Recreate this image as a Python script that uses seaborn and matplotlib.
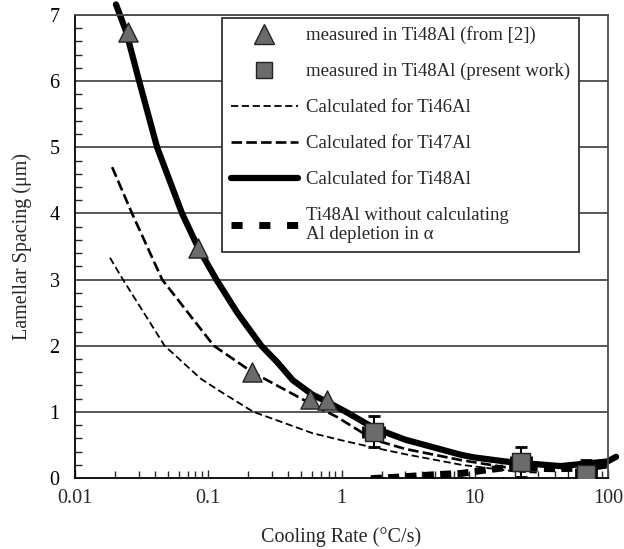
import matplotlib
matplotlib.use("Agg")
import matplotlib.pyplot as plt
import numpy as np
import pandas as pd
import seaborn as sns
from matplotlib.lines import Line2D
from matplotlib.ticker import MultipleLocator, LogLocator, NullFormatter, FuncFormatter

# measured points
tri_x = [0.025, 0.0841, 0.214, 0.585, 0.78]
tri_y = [6.75, 3.48, 1.60, 1.20, 1.18]

sq_x = [1.74, 22.2, 68.0]
sq_y = [0.70, 0.24, 0.06]
sq_err = [0.23, 0.23, 0.21]

# calculated curves
ti46_x = [0.0183, 0.0229, 0.047, 0.088, 0.123, 0.218, 0.30, 0.6, 1.0, 1.74, 3.0, 7.9, 20, 30]
ti46_y = [3.33, 3.00, 2.00, 1.50, 1.31, 1.00, 0.90, 0.68, 0.57, 0.46, 0.36, 0.20, 0.10, 0.08]

ti47_x = [0.019, 0.0268, 0.0451, 0.0616, 0.11, 0.214, 0.58, 0.93, 1.74, 3.0, 7.9, 20, 30]
ti47_y = [4.70, 4.00, 3.00, 2.65, 2.00, 1.60, 1.13, 0.92, 0.58, 0.44, 0.27, 0.14, 0.12]

ti48_x = [0.0203, 0.0242, 0.0303, 0.0413, 0.0636, 0.0841, 0.115, 0.165, 0.25, 0.33, 0.43,
          0.605, 0.80, 1.08, 1.74, 3.0, 7.9, 10, 18.5, 44, 99, 115]
ti48_y = [7.16, 6.75, 6.00, 5.00, 4.00, 3.48, 3.00, 2.50, 2.00, 1.75, 1.48,
          1.26, 1.14, 1.00, 0.76, 0.58, 0.35, 0.31, 0.24, 0.18, 0.25, 0.32]

nodep_x = [1.66, 3.0, 5.0, 8.0, 12, 16, 25, 40, 70, 100]
nodep_y = [-0.01, 0.02, 0.05, 0.07, 0.12, 0.15, 0.15, 0.14, 0.15, 0.20]

sns.set_style("white")
plt.rcParams["font.family"] = ["Liberation Serif", "DejaVu Serif"]

fig = plt.figure(figsize=(6.24, 5.49), dpi=100)
ax = fig.add_axes([75 / 624, 1 - 478 / 549, 533 / 624, 463 / 549])

ax.set_xscale("log")
ax.set_xlim(0.01, 100)
ax.set_ylim(0, 7)

# horizontal grid
for yv in range(1, 8):
    ax.axhline(yv, color="#4a4a4a", lw=1.3, zorder=1)

kw = dict(ax=ax, sort=False, estimator=None, color="black", legend=False)
sns.lineplot(x=ti46_x, y=ti46_y, lw=1.3, linestyle=(0, (4, 2)), **kw)
sns.lineplot(x=ti47_x, y=ti47_y, lw=1.9, linestyle=(0, (4, 1.6)), **kw)
sns.lineplot(x=ti48_x, y=ti48_y, lw=4.5, **kw)
ax.lines[-1].set_clip_on(False)
ax.lines[-1].set_solid_joinstyle("round")
sns.lineplot(x=nodep_x, y=nodep_y, lw=5, linestyle=(0, (1.6, 0.9)), **kw)

sns.scatterplot(x=tri_x, y=tri_y, ax=ax, marker="^", s=190, color="#6b6b6b",
                edgecolor="#222222", linewidth=1.0, zorder=5, legend=False)

xerr_lo = [v - v / 1.19 for v in sq_x]
xerr_hi = [v * 1.19 - v for v in sq_x]
ax.errorbar(sq_x, sq_y, yerr=sq_err, xerr=[xerr_lo, xerr_hi], fmt="none",
            ecolor="black", elinewidth=1.5, capsize=4, capthick=2, zorder=4)
sns.scatterplot(x=sq_x, y=sq_y, ax=ax, marker="s", s=150, color="#6b6b6b",
                edgecolor="#222222", linewidth=1.0, zorder=6, legend=False)

# axes styling
for side in ["left", "bottom"]:
    ax.spines[side].set_color("black")
    ax.spines[side].set_linewidth(1.3)
for side in ["right", "top"]:
    ax.spines[side].set_color("#4a4a4a")
    ax.spines[side].set_linewidth(1.3)

ax.yaxis.set_major_locator(MultipleLocator(1))
ax.yaxis.set_minor_locator(MultipleLocator(0.2))
ax.xaxis.set_major_locator(LogLocator(base=10))
ax.xaxis.set_minor_locator(LogLocator(base=10, subs=np.arange(2, 10)))
ax.xaxis.set_minor_formatter(NullFormatter())
ax.xaxis.set_major_formatter(FuncFormatter(lambda v, p: f"{v:g}"))

ax.tick_params(axis="y", which="major", direction="out", length=7, width=1.2,
               labelsize=14.5, pad=4, colors="black")
ax.tick_params(axis="y", which="minor", direction="in", length=5, width=1.0, left=True)
ax.tick_params(axis="x", which="major", direction="in", length=6, width=1.0,
               labelsize=14.5, pad=8, bottom=True)
ax.tick_params(axis="x", which="minor", direction="in", length=5, width=1.0, bottom=True)

ax.set_xlabel("Cooling Rate (°C/s)", fontsize=14.5, labelpad=14)
ax.set_ylabel("Lamellar Spacing (μm)", fontsize=14.5, labelpad=13)

handles = [
    Line2D([], [], ls="none", marker="^", ms=14, mfc="#6b6b6b", mec="#222222"),
    Line2D([], [], ls="none", marker="s", ms=11, mfc="#6b6b6b", mec="#222222"),
    Line2D([], [], color="black", lw=1.3, ls=(0, (4, 2))),
    Line2D([], [], color="black", lw=1.9, ls=(0, (4, 1.6))),
    Line2D([], [], color="black", lw=4.5),
    Line2D([], [], color="black", lw=5, ls=(0, (1.6, 2.4))),
]
labels = [
    "measured in Ti48Al (from [2])",
    "measured in Ti48Al (present work)",
    "Calculated for Ti46Al",
    "Calculated for Ti47Al",
    "Calculated for Ti48Al",
    "Ti48Al without calculating\nAl depletion in α",
]
leg = ax.legend(handles, labels, loc="upper left", bbox_to_anchor=(0.276, 0.9935),
                borderaxespad=0, fontsize=13.5, handlelength=3.6, handletextpad=0.45,
                borderpad=0.45, labelspacing=1.0, frameon=True, fancybox=False,
                framealpha=1)
leg.get_frame().set_edgecolor("#333333")
leg.get_frame().set_linewidth(1.3)
leg.set_zorder(10)

fig.savefig("out.png", dpi=100)
